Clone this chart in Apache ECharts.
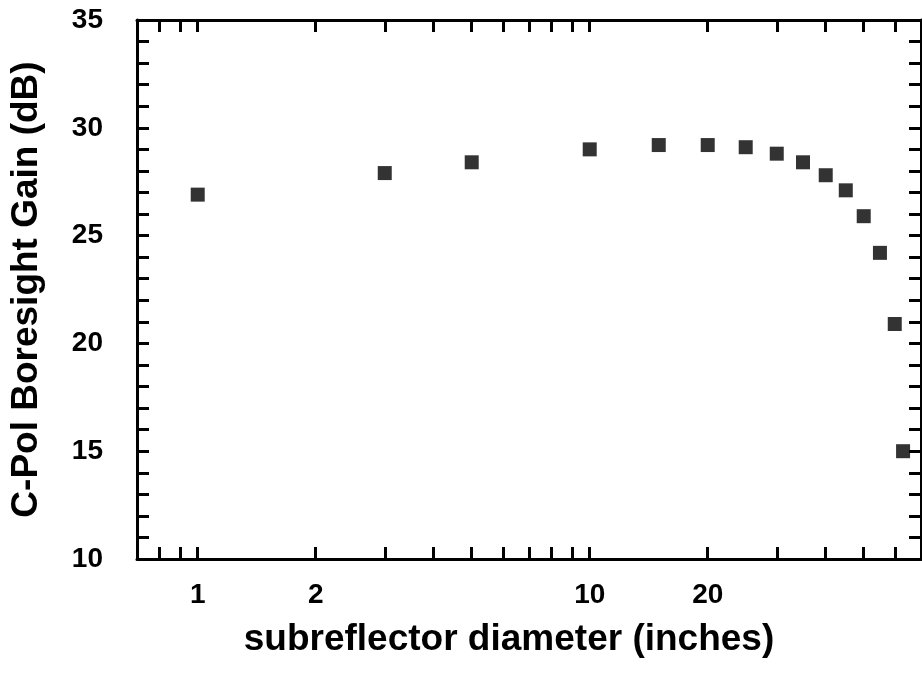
<!DOCTYPE html>
<html>
<head>
<meta charset="utf-8">
<script src="https://cdn.jsdelivr.net/npm/echarts@6/dist/echarts.min.js"></script>
<style>
  html, body { margin: 0; padding: 0; background: #fff; }
  #chart { width: 922px; height: 688px; }
</style>
</head>
<body>
<div id="chart"></div>
<script>
// subreflector diameter (inches) vs gain (dB)
var diameters = [1, 3, 5, 10, 15, 20, 25, 30, 35, 40, 45, 50, 55, 60, 63];
var gains = [26.9, 27.9, 28.4, 29.0, 29.2, 29.2, 29.1, 28.8, 28.4, 27.8, 27.1, 25.9, 24.2, 20.9, 15.0];
var xTicks = [0.8, 0.9, 1, 2, 3, 4, 5, 6, 7, 8, 9, 10, 20, 30, 40, 50, 60];
var xLabels = [1, 2, 10, 20];

var points = [];
for (var i = 0; i < diameters.length; i++) {
    points.push([diameters[i], gains[i]]);
}

var font = '"Liberation Sans", Arial, Helvetica, sans-serif';
var lineStyle = { color: '#000', width: 3 };
var tickStyle = { color: '#000', width: 3 };

var chart = echarts.init(document.getElementById('chart'));
chart.setOption({
    backgroundColor: '#fff',
    animation: false,
    grid: {
        left: 137,
        right: 1,
        top: 20,
        bottom: 129
    },
    xAxis: [{
        type: 'log',
        min: 0.7,
        max: 70,
        position: 'bottom',
        name: 'subreflector diameter (inches)',
        nameLocation: 'middle',
        nameGap: 62,
        nameTextStyle: { fontFamily: font, fontSize: 37, fontWeight: 'bold', color: '#000', padding: [0, 40, 0, 0] },
        axisLine: { lineStyle: lineStyle },
        axisTick: { inside: true, length: 12, lineStyle: tickStyle, customValues: xTicks },
        axisLabel: { customValues: xLabels, fontFamily: font, fontSize: 28, fontWeight: 'bold', color: '#000', margin: 22 },
        splitLine: { show: false }
    }, {
        type: 'log',
        min: 0.7,
        max: 70,
        position: 'top',
        axisLine: { lineStyle: lineStyle },
        axisTick: { inside: true, length: 12, lineStyle: tickStyle, customValues: xTicks },
        axisLabel: { show: false },
        splitLine: { show: false }
    }],
    yAxis: [{
        type: 'value',
        min: 10,
        max: 35,
        interval: 5,
        position: 'left',
        name: 'C-Pol Boresight Gain (dB)',
        nameLocation: 'middle',
        nameGap: 82,
        nameTextStyle: { fontFamily: font, fontSize: 37, fontWeight: 'bold', color: '#000', padding: [0, 0, 10, 0] },
        axisLine: { lineStyle: lineStyle },
        axisTick: { inside: true, length: 12, lineStyle: tickStyle },
        minorTick: { show: true, splitNumber: 5, length: 12, lineStyle: tickStyle },
        axisLabel: { fontFamily: font, fontSize: 28, fontWeight: 'bold', color: '#000', margin: 34 },
        splitLine: { show: false }
    }, {
        type: 'value',
        min: 10,
        max: 35,
        interval: 5,
        position: 'right',
        axisLine: { lineStyle: lineStyle },
        axisTick: { inside: true, length: 12, lineStyle: tickStyle },
        minorTick: { show: true, splitNumber: 5, length: 12, lineStyle: tickStyle },
        axisLabel: { show: false },
        splitLine: { show: false }
    }],
    series: [{
        type: 'scatter',
        xAxisIndex: 0,
        yAxisIndex: 0,
        symbol: 'rect',
        symbolSize: 14,
        itemStyle: { color: '#000' },
        data: points
    }]
});
</script>
</body>
</html>
